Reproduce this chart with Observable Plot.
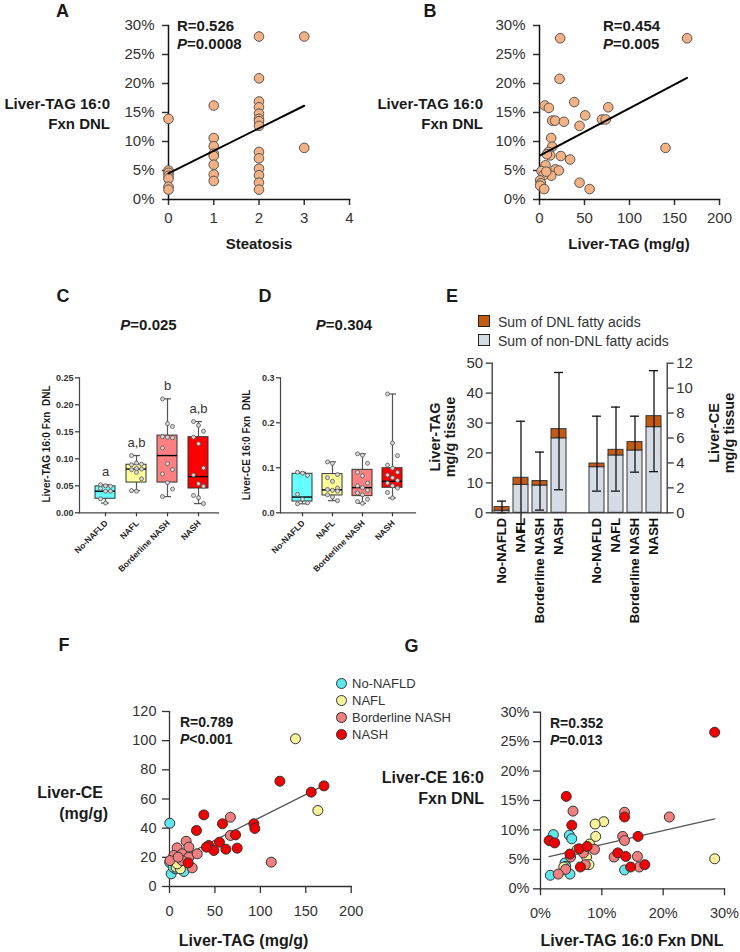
<!DOCTYPE html>
<html><head><meta charset="utf-8">
<script src="https://cdn.jsdelivr.net/npm/d3@7"></script>
<script src="https://cdn.jsdelivr.net/npm/@observablehq/plot@0.6"></script>
<style>
body{margin:0;background:#fff;}
#fig{position:relative;width:740px;height:952px;font-family:Arial,"Liberation Sans",sans-serif;color:#1a1a1a;overflow:hidden;background:#fff}
.t{position:absolute;white-space:nowrap;line-height:1}
</style></head><body><div id="fig"></div>
<script>
// ---------------- data ----------------
const groups = ["No-NAFLD","NAFL","Borderline NASH","NASH"];
const boxColors = ["#66ffff","#ffff99","#ff8080","#ff0000"];
const scatterColors = ["#5ee6ee","#f7f39a","#f08080","#f00000"];
const dotOrange = "#f4b183";

// Panel A: steatosis score vs liver-TAG 16:0 fxn DNL (%)
const steatosisScores = [0,1,2,3];
const fxnBySteatosis = [
  [13.9,5.0,4.6,4.1,3.6,2.2,1.7],
  [16.2,10.6,9.2,7.9,7.5,6.0,4.3,3.2],
  [28.1,20.9,16.9,15.9,14.8,13.9,13.5,12.7,8.2,7.1,5.3,4.2,2.9,1.7],
  [28.1,8.9]
];

// Panel B: liver-TAG (mg/g) vs fxn DNL (%)
const liverTagB = [23,164,22.3,5.9,10.4,38.6,76.4,50.8,14.1,17.4,27.1,44.5,69.4,73.5,13,14.1,10,11.9,8.2,140,23.7,34,6.7,2.2,17.8,21.5,13,4.5,0.7,1.5,0.7,5.2,44.5,55.7,7.5];
const fxnB      = [27.8,27.8,20.8,16.2,15.8,16.8,15.9,14.5,13.6,13.6,13.4,12.7,13.8,13.8,10.6,9.1,8.2,7.6,7.8,8.9,7.5,6.9,5.9,4.9,5.2,5.0,4.1,4.2,3.3,2.8,2.4,1.8,2.9,1.8,4.8];

// Panel C: liver-TAG 16:0 fxn DNL box stats
const cMin = [0.018,0.041,0.030,0.017];
const cQ1  = [0.026,0.056,0.056,0.045];
const cMed = [0.040,0.081,0.106,0.067];
const cQ3  = [0.049,0.089,0.143,0.140];
const cMax = [0.052,0.106,0.211,0.169];
const cLetters = ["a","a,b","b","a,b"];
const cPoints = [
  [0.052,0.050,0.049,0.045,0.040,0.040,0.026,0.018],
  [0.106,0.092,0.090,0.089,0.082,0.081,0.080,0.075,0.063,0.041,0.040],
  [0.211,0.165,0.160,0.141,0.140,0.139,0.120,0.091,0.080,0.072,0.056,0.044,0.030],
  [0.169,0.162,0.151,0.140,0.128,0.083,0.070,0.054,0.049,0.032,0.028,0.017]
];
// Panel D: liver-CE 16:0 fxn DNL box stats
const dMin = [0.020,0.027,0.021,0.033];
const dQ1  = [0.025,0.0385,0.037,0.0556];
const dMed = [0.035,0.051,0.056,0.070];
const dQ3  = [0.0867,0.086,0.0955,0.099];
const dMax = [0.090,0.113,0.131,0.264];
const dPoints = [
  [0.090,0.088,0.083,0.041,0.030,0.022,0.020],
  [0.113,0.110,0.085,0.078,0.070,0.055,0.052,0.050,0.048,0.040,0.035,0.027],
  [0.131,0.128,0.110,0.090,0.082,0.066,0.060,0.056,0.050,0.044,0.040,0.030,0.025,0.021],
  [0.264,0.155,0.127,0.106,0.099,0.090,0.084,0.078,0.072,0.066,0.060,0.055,0.045,0.033]
];

// Panel E: stacked sums (TAG on left axis, CE on right axis)
const eTagNonDnl = [0.7,9.35,9.1,24.9];
const eTagDnl    = [1.2,2.35,1.5,3.05];
const eTagLo     = [0,-5.9,0.9,7.7];
const eTagHi     = [3.9,30.6,20.3,46.9];
const eCeNonDnl  = [3.66,4.6,5.0,6.87];
const eCeDnl     = [0.29,0.45,0.67,0.88];
const eCeLo      = [1.74,1.74,3.26,3.3];
const eCeHi      = [7.75,8.48,7.75,11.4];
const eParts = ["Sum of DNL fatty acids","Sum of non-DNL fatty acids"];
const ePartColors = ["#c55a11","#d6dce6"];

// Panel F: liver-TAG (mg/g) vs liver-CE (mg/g)
const fNoNafld = [[0.3,43.4],[0.2,16.5],[1.8,8.7],[6.6,12.1],[15.8,10.3],[4,13.3]];
const fNafl = [[138.7,101.3],[163.3,52.1],[7.3,13.3],[12,12.1],[8.4,15.5]];
const fBorderline = [[67,47.5],[67,35],[112,16.7],[18.3,31],[21.3,27],[8.4,26.5],[4.8,21.3],[0.5,17.8],[13.9,22.4],[21.3,20.1],[30.5,22.4],[25,12.8],[13.9,17.8],[9.5,20.1]];
const fNash = [[121.5,72.2],[156,64.7],[170,69],[37.8,49.1],[29.7,38.4],[58.3,43],[72.7,35.4],[92.8,43],[93.9,39.8],[43.3,28.1],[48.8,24.7],[55,30.4],[62,25.6],[74.5,26.3],[20.5,16.2],[40.7,27]];

// Panel G: liver-TAG 16:0 fxn DNL (%) vs liver-CE 16:0 fxn DNL (%)
const gNoNafld = [[2.1,9.2],[4.7,9.1],[5.1,8.5],[4,4.4],[4.8,2.5],[1.6,2.3],[13.7,3.2],[4.1,3.8]];
const gNafl = [[10.3,11.4],[8.9,11],[9,8.9],[8,7.6],[7.5,5.4],[7.9,4.1],[6,6.7],[28.4,5.1],[3.8,3.7]];
const gBorderline = [[5.3,13.2],[13.7,13],[21,12.2],[13.4,8.9],[13.7,8.2],[8.8,6.7],[7,6.1],[4.9,5.4],[12,5.4],[15.8,5.5],[16.1,3.7],[7.3,4.1],[4.1,3.3],[2.9,2.5]];
const gNash = [[28.4,26.6],[4.2,15.7],[5.1,10.8],[13.7,12.2],[15.9,8.9],[1.4,8.2],[2.3,7.8],[4.8,5.9],[6.3,6.8],[7.6,7.2],[6.5,3.7],[12.6,6.1],[13.9,5.5],[14.7,3.7],[17,4.1]];

// ---------------- helpers ----------------
const FONT = 'Arial, "Liberation Sans", sans-serif';
const fig = document.getElementById("fig");
function st(size, weight="normal"){
  return {fontFamily:FONT,fontSize:size+"px",fontWeight:weight,color:"#333",background:"transparent",overflow:"visible"};
}
function place(svg,left,top){
  svg.style.position="absolute"; svg.style.left=left+"px"; svg.style.top=top+"px"; svg.style.maxWidth="none";
  fig.appendChild(svg);
}
function label(x,y,html,o={}){
  const d=document.createElement("div");
  d.className="t"; d.innerHTML=html;
  d.style.left=x+"px"; d.style.top=y+"px";
  d.style.fontSize=(o.size||15)+"px";
  d.style.fontWeight=o.weight||"bold";
  if(o.color) d.style.color=o.color;
  if(o.align) d.style.textAlign=o.align;
  if(o.lh) d.style.lineHeight=o.lh+"px";
  const ax=o.anchor==="start"?"0%":o.anchor==="end"?"-100%":"-50%";
  d.style.transform=`translate(${ax},-50%)`+(o.rotate?` rotate(${o.rotate}deg)`:"");
  fig.appendChild(d);
}
const pairRows=(arr,g)=>arr.map(([x,y])=>({x,y,g}));

// ---------------- Panel A ----------------
const aRows = steatosisScores.flatMap((s,i)=>fxnBySteatosis[i].map(v=>({x:s,y:v})));
place(Plot.plot({
  width:370,height:250,marginLeft:168,marginRight:21,marginTop:25,marginBottom:51,
  x:{domain:[0,4]},y:{domain:[0,30]},style:st(15),
  marks:[
    Plot.axisY({ticks:d3.range(0,31,5),tickFormat:d=>d+"%",tickSize:6,tickPadding:8,strokeWidth:1.5,label:null}),
    Plot.axisX({ticks:[0,1,2,3,4],tickFormat:d=>String(d),tickSize:6,tickPadding:7,strokeWidth:1.5,label:null}),
    Plot.frame({anchor:"left",stroke:"#111",strokeWidth:1.5}),
    Plot.frame({anchor:"bottom",stroke:"#111",strokeWidth:1.5}),
    Plot.dot(aRows,{x:"x",y:"y",r:4.8,fill:dotOrange,stroke:"#555",strokeWidth:1}),
    Plot.linearRegressionY(aRows,{x:"x",y:"y",stroke:"#000",strokeWidth:2,ci:0})
  ]}),0,0);

// ---------------- Panel B ----------------
const bRows = liverTagB.map((x,i)=>({x,y:fxnB[i]}));
place(Plot.plot({
  width:370,height:250,marginLeft:169,marginRight:21,marginTop:25,marginBottom:51,
  x:{domain:[0,200]},y:{domain:[0,30]},style:st(15),
  marks:[
    Plot.axisY({ticks:d3.range(0,31,5),tickFormat:d=>d+"%",tickSize:6,tickPadding:8,strokeWidth:1.5,label:null}),
    Plot.axisX({ticks:[0,50,100,150,200],tickFormat:d=>String(d),tickSize:6,tickPadding:7,strokeWidth:1.5,label:null}),
    Plot.frame({anchor:"left",stroke:"#111",strokeWidth:1.5}),
    Plot.frame({anchor:"bottom",stroke:"#111",strokeWidth:1.5}),
    Plot.dot(bRows,{x:"x",y:"y",r:4.8,fill:dotOrange,stroke:"#555",strokeWidth:1}),
    Plot.linearRegressionY(bRows,{x:"x",y:"y",stroke:"#000",strokeWidth:2,ci:0})
  ]}),370,0);

// ---------------- Panels C & D (box plots) ----------------
function boxPanel(mins,q1,med,q3,maxs,pts,yMax,yTicks,fmt,letters,opts){
  const stats = groups.map((g,i)=>({g,min:mins[i],q1:q1[i],med:med[i],q3:q3[i],max:maxs[i],lab:letters?letters[i]:""}));
  const rows = groups.flatMap((g,i)=>pts[i].map((v,j)=>({g,v,j})));
  const jitter=[-5,0,5];
  return Plot.plot({
    width:opts.width,height:210,marginLeft:opts.ml,marginRight:opts.mr,marginTop:17.3,marginBottom:57.7,
    x:{type:"band",domain:groups,range:opts.range,paddingInner:0.35,paddingOuter:0.175},
    y:{domain:[0,yMax]},
    color:{domain:groups,range:boxColors},
    style:st(9,"bold"),
    marks:[
      Plot.axisY({ticks:yTicks,tickFormat:fmt,tickSize:4,tickPadding:2,strokeWidth:1.2,label:null}),
      Plot.axisX({tickSize:4,tickFormat:()=>"",strokeWidth:1.2,label:null}),
      Plot.text(groups,{x:d=>d,text:d=>d,frameAnchor:"bottom",rotate:-45,textAnchor:"end",lineAnchor:"middle",dy:9,dx:1,fontSize:8.5,fontWeight:"bold",fill:"#222"}),
      Plot.frame({anchor:"left",stroke:"#444",strokeWidth:1.2}),
      Plot.frame({anchor:"bottom",stroke:"#444",strokeWidth:1.2}),
      Plot.ruleX(stats,{x:"g",y1:"min",y2:"max",stroke:"#555",strokeWidth:1.2}),
      Plot.tickY(stats,{x:"g",y:"min",stroke:"#555",strokeWidth:1.2,insetLeft:6,insetRight:6}),
      Plot.tickY(stats,{x:"g",y:"max",stroke:"#555",strokeWidth:1.2,insetLeft:6,insetRight:6}),
      Plot.barY(stats,{x:"g",y1:"q1",y2:"q3",fill:"g",stroke:"#333",strokeWidth:1}),
      Plot.tickY(stats,{x:"g",y:"med",stroke:"#000",strokeWidth:1.4}),
      ...jitter.map((off,k)=>Plot.dot(rows.filter(d=>d.j%3===k),{x:"g",y:"v",dx:off,r:2,fill:"#d9d9d9",stroke:"#555",strokeWidth:0.8})),
      letters ? Plot.text(stats,{x:"g",y:"max",text:"lab",dy:-13,fontSize:13,fontWeight:"normal",fill:"#333"}) : null
    ]});
}
place(boxPanel(cMin,cQ1,cMed,cQ3,cMax,cPoints,0.25,[0,0.05,0.10,0.15,0.20,0.25],d=>d.toFixed(2),cLetters,
  {width:230,ml:79,mr:12,range:[89.5,213.5]}),0,360);
place(boxPanel(dMin,dQ1,dMed,dQ3,dMax,dPoints,0.3,[0,0.1,0.2,0.3],d=>d.toFixed(1),null,
  {width:190,ml:50,mr:5,range:[55.6,178.8]}),230,360);

// ---------------- Panel E (stacked bars, dual axis) ----------------
const ceToTag = 50/12;
const eKeys = [...groups.map(g=>"TAG|"+g)," ",...groups.map(g=>"CE|"+g)];
const eRows = [
  ...groups.flatMap((g,i)=>[
    {key:"TAG|"+g,part:eParts[1],value:eTagNonDnl[i]},
    {key:"TAG|"+g,part:eParts[0],value:eTagDnl[i]}]),
  ...groups.flatMap((g,i)=>[
    {key:"CE|"+g,part:eParts[1],value:eCeNonDnl[i]*ceToTag},
    {key:"CE|"+g,part:eParts[0],value:eCeDnl[i]*ceToTag}])
];
const eErr = [
  ...groups.map((g,i)=>({key:"TAG|"+g,lo:eTagLo[i],hi:eTagHi[i]})),
  ...groups.map((g,i)=>({key:"CE|"+g,lo:eCeLo[i]*ceToTag,hi:eCeHi[i]*ceToTag}))
];
place(Plot.plot({
  width:270,height:290,marginLeft:51.7,marginRight:43.3,marginTop:22.7,marginBottom:117.7,
  x:{type:"band",domain:eKeys,range:[50.3,224.9],paddingInner:0.19,paddingOuter:0.095},
  y:{domain:[0,50]},
  color:{domain:eParts,range:ePartColors},
  style:st(15),
  marks:[
    Plot.axisY({anchor:"left",ticks:d3.range(0,51,10),tickSize:6,tickPadding:3,strokeWidth:1.3,label:null}),
    Plot.axisY(d3.range(0,13,2).map(v=>v*ceToTag),{anchor:"right",tickFormat:v=>Math.round(v/ceToTag),tickSize:6,tickPadding:3,strokeWidth:1.3,label:null}),
    Plot.axisX({tickSize:0,tickPadding:5,tickRotate:-90,fontSize:13,fontWeight:"bold",fill:"#111",tickFormat:k=>k.includes("|")?k.split("|")[1]:"",label:null}),
    Plot.barY(eRows,{x:"key",y:"value",fill:"part",stroke:"#333",strokeWidth:1}),
    Plot.ruleX(eErr,{x:"key",y1:"lo",y2:"hi",stroke:"#111",strokeWidth:1.3}),
    Plot.tickY(eErr,{x:"key",y:"lo",stroke:"#111",strokeWidth:1.3,insetLeft:3,insetRight:3}),
    Plot.tickY(eErr,{x:"key",y:"hi",stroke:"#111",strokeWidth:1.3,insetLeft:3,insetRight:3}),
    Plot.frame({anchor:"left",stroke:"#333",strokeWidth:1.3}),
    Plot.frame({anchor:"right",stroke:"#333",strokeWidth:1.3}),
    Plot.frame({anchor:"bottom",stroke:"#333",strokeWidth:1.3})
  ]}),440,340);

// ---------------- Panels F & G (colored scatter) ----------------
const fRows = [...pairRows(fNoNafld,groups[0]),...pairRows(fNafl,groups[1]),...pairRows(fBorderline,groups[2]),...pairRows(fNash,groups[3])];
const gRows = [...pairRows(gNoNafld,groups[0]),...pairRows(gNafl,groups[1]),...pairRows(gBorderline,groups[2]),...pairRows(gNash,groups[3])];
place(Plot.plot({
  width:370,height:262,marginLeft:169,marginRight:19.3,marginTop:21,marginBottom:66,
  x:{domain:[0,200]},y:{domain:[0,120]},color:{domain:groups,range:scatterColors},style:st(14.5),
  marks:[
    Plot.axisY({ticks:d3.range(0,121,20),tickSize:7,tickPadding:6,strokeWidth:1.3,label:null}),
    Plot.axisX({ticks:[0,50,100,150,200],tickFormat:d=>String(d),tickSize:7,tickPadding:12,strokeWidth:1.3,label:null}),
    Plot.frame({anchor:"left",stroke:"#333",strokeWidth:1.3}),
    Plot.frame({anchor:"bottom",stroke:"#333",strokeWidth:1.3}),
    Plot.linearRegressionY(fRows,{x:"x",y:"y",stroke:"#555",strokeWidth:1.3,ci:0}),
    Plot.dot(fRows,{x:"x",y:"y",r:5,fill:"g",stroke:"#333",strokeWidth:1})
  ]}),0,690);
place(Plot.plot({
  width:370,height:262,marginLeft:170,marginRight:16,marginTop:21.7,marginBottom:63.7,
  x:{domain:[0,30]},y:{domain:[0,30]},color:{domain:groups,range:scatterColors},style:st(14.5),
  marks:[
    Plot.axisY({ticks:d3.range(0,31,5),tickFormat:d=>d+"%",tickSize:7,tickPadding:4,strokeWidth:1.3,label:null}),
    Plot.axisX({ticks:[0,10,20,30],tickFormat:d=>d+"%",tickSize:7,tickPadding:12,strokeWidth:1.3,label:null}),
    Plot.frame({anchor:"left",stroke:"#333",strokeWidth:1.3}),
    Plot.frame({anchor:"bottom",stroke:"#333",strokeWidth:1.3}),
    Plot.linearRegressionY(gRows,{x:"x",y:"y",stroke:"#555",strokeWidth:1.3,ci:0}),
    Plot.dot(gRows,{x:"x",y:"y",r:5,fill:"g",stroke:"#333",strokeWidth:1})
  ]}),370,690);

// ---------------- text ----------------
[["A",62.5,11],["B",430,11],["C",63,296],["D",265,296],["E",452,296],["F",64,645],["G",411.5,646]]
  .forEach(([s,x,y])=>label(x,y,s,{size:18}));
// A
label(110,113,"Liver-TAG 16:0<br>Fxn DNL",{anchor:"end",align:"right",lh:19.5});
label(177,25,"R=0.526",{anchor:"start"});
label(177,43,"<i>P</i>=0.0008",{anchor:"start"});
label(259,243,"Steatosis");
// B
label(483,113,"Liver-TAG 16:0<br>Fxn DNL",{anchor:"end",align:"right",lh:19.5});
label(603,25,"R=0.454",{anchor:"start"});
label(603,43,"<i>P</i>=0.005",{anchor:"start"});
label(629,243,"Liver-TAG (mg/g)");
// C, D
label(148.5,324,"<i>P</i>=0.025");
label(344,324,"<i>P</i>=0.304");
label(47,444,"Liver-TAG 16:0 Fxn&nbsp;&nbsp;DNL",{size:10,rotate:-90});
label(247,445,"Liver-CE 16:0 Fxn&nbsp;&nbsp;DNL",{size:10,rotate:-90});
// E
label(443,437,"Liver-TAG<br>mg/g tissue",{size:14.5,rotate:-90,align:"center",lh:15});
label(722,433,"Liver-CE<br>mg/g tissue",{size:14.5,rotate:-90,align:"center",lh:15});
eParts.forEach((p,i)=>{
  const sq=document.createElement("div");
  sq.style.cssText=`position:absolute;left:478px;top:${315+i*19}px;width:10px;height:10px;background:${ePartColors[i]};border:1.5px solid #222`;
  fig.appendChild(sq);
  label(498,322+i*19,p,{anchor:"start",size:14,weight:"normal",color:"#333"});
});
// F legend
groups.forEach((g,i)=>{
  const c=document.createElement("div");
  c.style.cssText=`position:absolute;left:${341-5.5}px;top:${683+i*17-5.5}px;width:9px;height:9px;border-radius:50%;background:${scatterColors[i]};border:1px solid #333`;
  fig.appendChild(c);
  label(352,683+i*17,g,{anchor:"start",size:13,weight:"normal",color:"#333"});
});
// F
label(103,793,"Liver-CE",{anchor:"end",size:16});
label(108,814,"(mg/g)",{anchor:"end",size:16});
label(180,722,"R=0.789",{anchor:"start",size:14});
label(180,739,"<i>P</i>&lt;0.001",{anchor:"start",size:14});
label(243.5,941,"Liver-TAG (mg/g)",{size:16});
// G
label(484,788,"Liver-CE 16:0<br>Fxn DNL",{anchor:"end",align:"right",lh:20.5,size:16});
label(550,723,"R=0.352",{anchor:"start",size:14});
label(550,740,"<i>P</i>=0.013",{anchor:"start",size:14});
label(632,941,"Liver-TAG 16:0 Fxn DNL",{size:16});
</script></body></html>
